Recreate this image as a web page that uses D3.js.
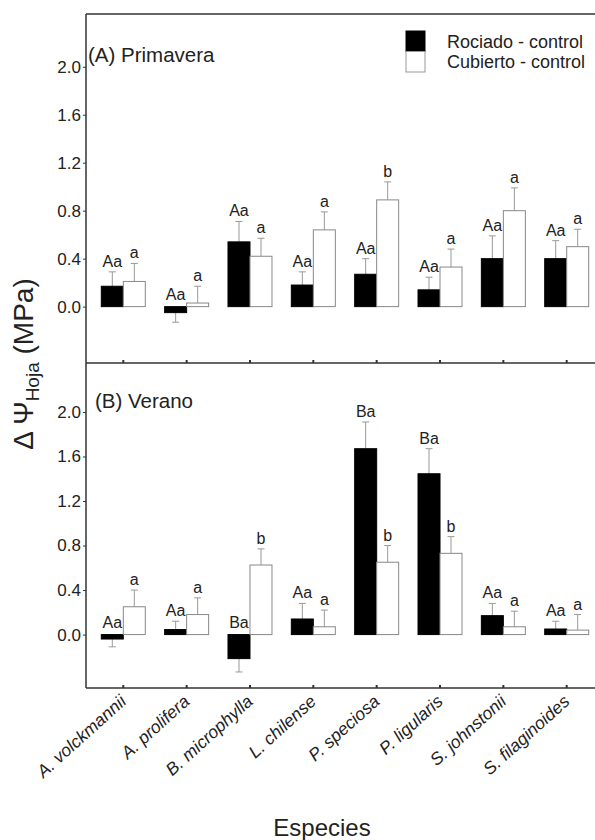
<!DOCTYPE html>
<html>
<head>
<meta charset="utf-8">
<script src="https://cdn.jsdelivr.net/npm/d3@7"></script>
<style>
  body { margin: 0; background: #fff; }
  svg { display: block; font-family: "Liberation Sans", Arial, sans-serif; }
</style>
</head>
<body>
<script>
// Datos
const species = ["A. volckmannii", "A. prolifera", "B. microphylla", "L. chilense",
  "P. speciosa", "P. ligularis", "S. johnstonii", "S. filaginoides"];

const yTicks = [0, 0.4, 0.8, 1.2, 1.6, 2.0];

// (A) Primavera
const springRociado = [0.17, -0.05, 0.54, 0.18, 0.27, 0.14, 0.40, 0.40];
const springRociadoErr = [0.12, 0.08, 0.17, 0.11, 0.13, 0.105, 0.19, 0.15];
const springCubierto = [0.21, 0.03, 0.42, 0.64, 0.89, 0.33, 0.80, 0.50];
const springCubiertoErr = [0.15, 0.14, 0.15, 0.15, 0.15, 0.15, 0.19, 0.145];
const springRociadoLet = ["Aa", "Aa", "Aa", "Aa", "Aa", "Aa", "Aa", "Aa"];
const springCubiertoLet = ["a", "a", "a", "a", "b", "a", "a", "a"];

// (B) Verano
const summerRociado = [-0.04, 0.045, -0.216, 0.14, 1.67, 1.445, 0.17, 0.05];
const summerRociadoErr = [0.07, 0.075, 0.12, 0.14, 0.24, 0.225, 0.11, 0.07];
const summerCubierto = [0.25, 0.18, 0.625, 0.07, 0.65, 0.73, 0.07, 0.04];
const summerCubiertoErr = [0.15, 0.15, 0.145, 0.15, 0.15, 0.15, 0.14, 0.14];
const summerRociadoLet = ["Aa", "Aa", "Ba", "Aa", "Ba", "Ba", "Aa", "Aa"];
const summerCubiertoLet = ["a", "a", "b", "a", "b", "b", "a", "a"];

const width = 595, height = 840;
const left = 86;
const barW = 22;
const axisColor = "#333";

const svg = d3.select("body").append("svg")
  .attr("width", width)
  .attr("height", height);

const x = d3.scalePoint().domain(species).range([123.3, 566.7]);

const panels = [
  { title: "(A) Primavera", top: 14, bottom: 363, dom: [-0.47, 2.44], tx: 88, ty: 62,
    r: springRociado, rErr: springRociadoErr, c: springCubierto, cErr: springCubiertoErr,
    rLet: springRociadoLet, cLet: springCubiertoLet },
  { title: "(B) Verano", top: 363, bottom: 688, dom: [-0.48, 2.44], tx: 95, ty: 408,
    r: summerRociado, rErr: summerRociadoErr, c: summerCubierto, cErr: summerCubiertoErr,
    rLet: summerRociadoLet, cLet: summerCubiertoLet }
];

panels.forEach(p => {
  const y = d3.scaleLinear().domain(p.dom).range([p.bottom, p.top]);
  const g = svg.append("g");

  // dibuja una serie (barras + error + letras)
  function series(vals, errs, lets, offset, fill, stroke) {
    const items = species.map((s, i) => ({ s, v: vals[i], e: errs[i], l: lets[i] }));
    const end = d => d.v >= 0 ? d.v + d.e : d.v - d.e;

    g.selectAll(null).data(items).enter().append("line")
      .attr("x1", d => x(d.s) + offset).attr("x2", d => x(d.s) + offset)
      .attr("y1", d => y(d.v)).attr("y2", d => y(end(d)))
      .attr("stroke", "#999").attr("stroke-width", 1);
    g.selectAll(null).data(items).enter().append("line")
      .attr("x1", d => x(d.s) + offset - 3.5).attr("x2", d => x(d.s) + offset + 3.5)
      .attr("y1", d => y(end(d))).attr("y2", d => y(end(d)))
      .attr("stroke", "#999").attr("stroke-width", 1);

    g.selectAll(null).data(items).enter().append("rect")
      .attr("x", d => x(d.s) + offset - barW / 2)
      .attr("y", d => y(Math.max(d.v, 0)))
      .attr("width", barW)
      .attr("height", d => Math.abs(y(d.v) - y(0)))
      .attr("fill", fill)
      .attr("stroke", stroke)
      .attr("stroke-width", 1);

    g.selectAll(null).data(items).enter().append("text")
      .attr("x", d => x(d.s) + offset)
      .attr("y", d => Math.min(y(0) - 2, y(end(d))) - 5)
      .attr("text-anchor", "middle")
      .style("font-size", "16px")
      .attr("fill", "#222")
      .text(d => d.l);
  }

  series(p.r, p.rErr, p.rLet, -barW / 2, "#000", "#000");
  series(p.c, p.cErr, p.cLet, barW / 2, "#fff", "#888");

  // eje y
  const yAxis = d3.axisLeft(y)
    .tickValues(yTicks)
    .tickFormat(d3.format(".1f"))
    .tickSize(3)
    .tickPadding(2);
  const ya = g.append("g").attr("transform", `translate(${left},0)`).call(yAxis);
  ya.select(".domain").remove();
  ya.selectAll("line").attr("stroke", axisColor);
  ya.selectAll("text").style("font-size", "17px").attr("fill", "#222");

  // marcas del eje x
  g.selectAll(null).data(species).enter().append("line")
    .attr("x1", d => x(d)).attr("x2", d => x(d))
    .attr("y1", p.bottom).attr("y2", p.bottom - 3)
    .attr("stroke", axisColor).attr("stroke-width", 2);

  // marco
  g.append("line").attr("x1", left).attr("x2", width)
    .attr("y1", p.bottom).attr("y2", p.bottom)
    .attr("stroke", axisColor).attr("stroke-width", 1.5);
  g.append("line").attr("x1", left).attr("x2", left)
    .attr("y1", p.top).attr("y2", p.bottom)
    .attr("stroke", axisColor).attr("stroke-width", 1.5);

  g.append("text")
    .attr("x", p.tx).attr("y", p.ty)
    .style("font-size", "20.5px")
    .attr("fill", "#222")
    .text(p.title);
});

// línea superior
svg.append("line").attr("x1", left).attr("x2", width)
  .attr("y1", 14).attr("y2", 14)
  .attr("stroke", axisColor).attr("stroke-width", 1.5);

// leyenda
const legendItems = [
  { label: "Rociado - control", fill: "#000", stroke: "#000" },
  { label: "Cubierto - control", fill: "#fff", stroke: "#999" }
];
const legend = svg.append("g");
legend.selectAll("rect").data(legendItems).enter().append("rect")
  .attr("x", 406).attr("y", (d, i) => 31 + i * 20.5)
  .attr("width", 19).attr("height", 20.5)
  .attr("fill", d => d.fill).attr("stroke", d => d.stroke);
legend.selectAll("text").data(legendItems).enter().append("text")
  .attr("x", 447).attr("y", (d, i) => 47.5 + i * 20.5)
  .style("font-size", "18px")
  .attr("fill", "#222")
  .text(d => d.label);

// etiquetas del eje x
svg.selectAll(".xlab").data(species).enter().append("text")
  .attr("class", "xlab")
  .attr("transform", d => `translate(${x(d) + 4},${703}) rotate(-42)`)
  .attr("text-anchor", "end")
  .style("font-size", "17.5px")
  .style("font-style", "italic")
  .attr("fill", "#222")
  .text(d => d);

// títulos de ejes
svg.append("text")
  .attr("x", 322).attr("y", 836)
  .attr("text-anchor", "middle")
  .style("font-size", "24px")
  .attr("fill", "#222")
  .text("Especies");

const yl = svg.append("text")
  .attr("transform", "translate(33,364) rotate(-90)")
  .attr("text-anchor", "middle")
  .style("font-size", "28px")
  .attr("fill", "#222");
yl.append("tspan").text("Δ Ψ");
yl.append("tspan").attr("dy", 6).style("font-size", "19px").text("Hoja");
yl.append("tspan").attr("dy", -6).text(" (MPa)");
</script>
</body>
</html>
